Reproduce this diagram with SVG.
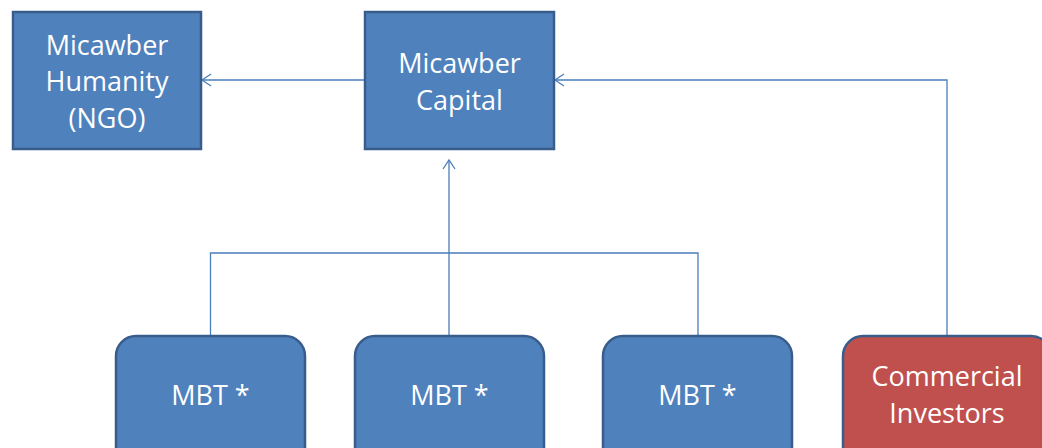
<svg xmlns="http://www.w3.org/2000/svg" width="1042" height="448" viewBox="0 0 1042 448">
<defs>
<style>
.box{fill:#4F81BD;stroke:#385D8A;stroke-width:2.5}
.red{fill:#C0504D;stroke:#385D8A;stroke-width:2.5}
.lbl{font-family:"Open Sans","Liberation Sans",sans-serif;font-size:27px;fill:#FFFFFF;text-anchor:middle}
.conn{fill:none;stroke:#4A7EBB;stroke-width:1.3}
</style>
<marker id="arr" markerUnits="userSpaceOnUse" viewBox="-11 -8 13 16" refX="0" refY="0" markerWidth="13" markerHeight="16" orient="auto" overflow="visible">
<path d="M-9,-6 L0,0 L-9,6" fill="none" stroke="#4A7EBB" stroke-width="1.3"/>
</marker>
</defs>
<rect width="1042" height="448" fill="#FFFFFF"/>
<g id="connectors">
<path class="conn" d="M365,80 H202" marker-end="url(#arr)"/>
<path class="conn" d="M947,336 V80 H555" marker-end="url(#arr)"/>
<path class="conn" d="M449,336 V160" marker-end="url(#arr)"/>
<path class="conn" d="M210.5,336 V253 H698 V336"/>
</g>
<g id="humanity">
<rect class="box" x="13" y="12" width="188" height="137"/>
<text class="lbl" x="107" y="54.5">Micawber</text>
<text class="lbl" x="107" y="91">Humanity</text>
<text class="lbl" x="107" y="128">(NGO)</text>
</g>
<g id="capital">
<rect class="box" x="365" y="12" width="189" height="137"/>
<text class="lbl" x="459.5" y="72.5">Micawber</text>
<text class="lbl" x="459.5" y="109.5">Capital</text>
</g>
<g id="mbt1">
<rect class="box" x="116" y="336" width="189" height="137" rx="20" ry="20"/>
<text class="lbl" x="210.5" y="404.5">MBT *</text>
</g>
<g id="mbt2">
<rect class="box" x="355" y="336" width="189" height="137" rx="20" ry="20"/>
<text class="lbl" x="449.5" y="404.5">MBT *</text>
</g>
<g id="mbt3">
<rect class="box" x="603" y="336" width="189" height="137" rx="20" ry="20"/>
<text class="lbl" x="697.5" y="404.5">MBT *</text>
</g>
<g id="investors">
<rect class="red" x="843" y="336" width="208" height="137" rx="20" ry="20"/>
<text class="lbl" x="947" y="385.5">Commercial</text>
<text class="lbl" x="947" y="423">Investors</text>
</g>
</svg>
